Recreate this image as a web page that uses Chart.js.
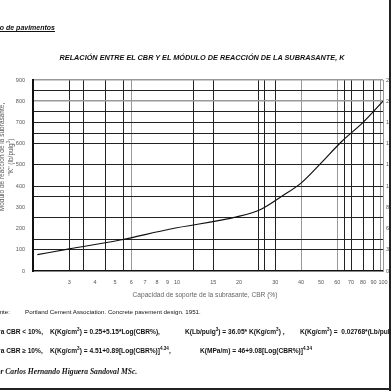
<!DOCTYPE html>
<html>
<head>
<meta charset="utf-8">
<script src="https://cdn.jsdelivr.net/npm/chart.js@4.4.1/dist/chart.umd.min.js"></script>
<style>
html, body { margin: 0; padding: 0; background: #fff; }
body { width: 391px; height: 391px; overflow: hidden; position: relative; font-family: 'Liberation Sans', Arial, sans-serif; color: #111; }
.t { position: absolute; white-space: nowrap; line-height: 1; }
.b { font-weight: bold; }
sup { font-size: 70%; line-height: 0; vertical-align: 3px; }
#wrap { position: absolute; left: 0; top: 0; width: 400px; height: 391px; }
</style>
</head>
<body>
<div id="wrap"><canvas id="myChart" width="400" height="391"></canvas></div>

<div class="t b" style="right:336px;top:24px;font-size:7px;font-style:italic;text-decoration:underline;">Diseño de pavimentos</div>
<div class="t b" style="left:202px;top:54px;font-size:7.3px;font-style:italic;transform:translateX(-50%);">RELACIÓN ENTRE EL CBR Y EL MÓDULO DE REACCIÓN DE LA SUBRASANTE, K</div>
<div class="t" style="left:6px;top:157px;font-size:6.5px;line-height:8.5px;color:#555;text-align:center;transform:translate(-50%,-50%) rotate(-90deg);">Módulo de reacción de la subrasante,<br>"K" (lb/pulg<sup>3</sup>)</div>
<div class="t" style="left:205px;top:292px;font-size:6.6px;color:#666;transform:translateX(-50%);">Capacidad de soporte de la subrasante, CBR (%)</div>

<div class="t" style="left:-11px;top:309px;font-size:6.2px;">Fuente:</div>
<div class="t" style="left:25px;top:309px;font-size:6.2px;">Portland Cement Association. Concrete pavement design. 1951.</div>

<div class="t b" style="left:-10px;top:329px;font-size:6.6px;">Para CBR &lt; 10%,</div>
<div class="t b" style="left:50px;top:329px;font-size:6.6px;">K(Kg/cm<sup>3</sup>) = 0.25+5.15*Log(CBR%),</div>
<div class="t b" style="left:185px;top:329px;font-size:6.6px;">K(Lb/pulg<sup>3</sup>) = 36.05* K(Kg/cm<sup>3</sup>) ,</div>
<div class="t b" style="left:300px;top:329px;font-size:6.6px;">K(Kg/cm<sup>3</sup>) =&nbsp; 0.02768*(Lb/pulg<sup>3</sup>)</div>

<div class="t b" style="left:-10px;top:348px;font-size:6.6px;">Para CBR ≥ 10%,</div>
<div class="t b" style="left:50px;top:348px;font-size:6.6px;">K(Kg/cm<sup>3</sup>) = 4.51+0.89[Log(CBR%)]<sup>4.34</sup>,</div>
<div class="t b" style="left:200px;top:348px;font-size:6.6px;">K(MPa/m) = 46+9.08[Log(CBR%)]<sup>4.34</sup></div>

<div class="t b" style="left:-8px;top:368px;font-size:7.6px;font-style:italic;font-family:'Liberation Serif',serif;">Por Carlos Hernando Higuera Sandoval MSc.</div>

<div style="position:absolute;left:389px;top:0;width:2px;height:391px;background:#222;"></div>
<div style="position:absolute;left:0;top:388px;width:391px;height:2px;background:#222;"></div>

<script>
// curva (CBR % vs K lb/pulg3)
const cbrValues = [2.1, 3, 5.3, 9.3, 19.7, 25.6, 32, 40, 50, 63, 80, 100];
const kValues = [77, 104, 146, 198, 256, 291, 350, 414, 508, 610, 700, 800];

const xTickLabels = [3, 4, 5, 6, 7, 8, 9, 10, 15, 20, 30, 40, 50, 60, 70, 80, 90, 100];
const xGridLines = [3, 3.5, 4.5, 5.5, 6, 12, 15, 25, 26.5, 30, 40, 60, 65, 70, 80, 90, 97, 100];
const xGrayLines = [6, 40, 60, 97, 100];

const yTickLabels = [0, 100, 200, 300, 400, 500, 600, 700, 800, 900];
const yGridLines = [100, 150, 250, 350, 400, 500, 600, 650, 700, 750, 800, 850, 900];
const yGrayLines = [800, 900];
const rightTickLabels = ['0', '3', '6', '8', '11', '14', '17', '19', '22', '25'];

const tickFont = { family: "'Liberation Sans', Arial, sans-serif", size: 5.5 };

const renderChart = () => {
    const ctx = document.getElementById('myChart').getContext('2d');
    const xAll = [...new Set([...xTickLabels, ...xGridLines])].sort((a, b) => a - b);
    const yAll = [];
    for (let v = 0; v <= 900; v += 50) yAll.push(v);

    new Chart(ctx, {
        type: 'scatter',
        data: {
            datasets: [{
                data: cbrValues.map((c, i) => ({ x: c, y: kValues[i] })),
                showLine: true,
                borderColor: '#111',
                borderWidth: 1.2,
                pointRadius: 0,
                cubicInterpolationMode: 'monotone',
                fill: false
            }]
        },
        options: {
            responsive: false,
            animation: false,
            layout: { padding: { top: 80, bottom: 100, left: 0, right: 0 } },
            plugins: { legend: { display: false }, tooltip: { enabled: false } },
            scales: {
                x: {
                    type: 'logarithmic',
                    min: 2,
                    max: 100,
                    afterBuildTicks: (scale) => { scale.ticks = xAll.map(v => ({ value: v })); },
                    afterFit: (scale) => { scale.height = 20; },
                    grid: {
                        drawTicks: false,
                        color: (c) => {
                            const v = c.tick ? c.tick.value : null;
                            if (!xGridLines.includes(v)) return 'rgba(0,0,0,0)';
                            return xGrayLines.includes(v) ? '#999' : '#222';
                        },
                        lineWidth: 1
                    },
                    border: { display: true, color: '#111', width: 1.5 },
                    ticks: {
                        autoSkip: false,
                        maxRotation: 0,
                        padding: 8,
                        color: '#555',
                        font: tickFont,
                        callback: (value) => xTickLabels.includes(value) ? String(value) : ''
                    }
                },
                y: {
                    min: 0,
                    max: 900,
                    afterBuildTicks: (scale) => { scale.ticks = yAll.map(v => ({ value: v })); },
                    afterFit: (scale) => { scale.width = 33; },
                    grid: {
                        drawTicks: false,
                        color: (c) => {
                            const v = c.tick ? c.tick.value : null;
                            if (!yGridLines.includes(v)) return 'rgba(0,0,0,0)';
                            return yGrayLines.includes(v) ? '#999' : '#222';
                        },
                        lineWidth: (c) => (c.tick && yGrayLines.includes(c.tick.value)) ? 1.5 : 1
                    },
                    border: { display: true, color: '#111', width: 2 },
                    ticks: {
                        padding: 8,
                        color: '#555',
                        font: tickFont,
                        callback: (value) => yTickLabels.includes(value) ? String(value) : ''
                    }
                },
                y2: {
                    position: 'right',
                    min: 0,
                    max: 900,
                    afterBuildTicks: (scale) => { scale.ticks = yTickLabels.map(v => ({ value: v })); },
                    afterFit: (scale) => { scale.width = 17; },
                    grid: { display: false, drawTicks: false },
                    border: { display: true, color: '#999', width: 1 },
                    ticks: {
                        padding: 3,
                        color: '#555',
                        font: tickFont,
                        callback: (value, i) => rightTickLabels[i]
                    }
                }
            }
        }
    });
};

document.addEventListener('DOMContentLoaded', renderChart);
</script>
</body>
</html>
